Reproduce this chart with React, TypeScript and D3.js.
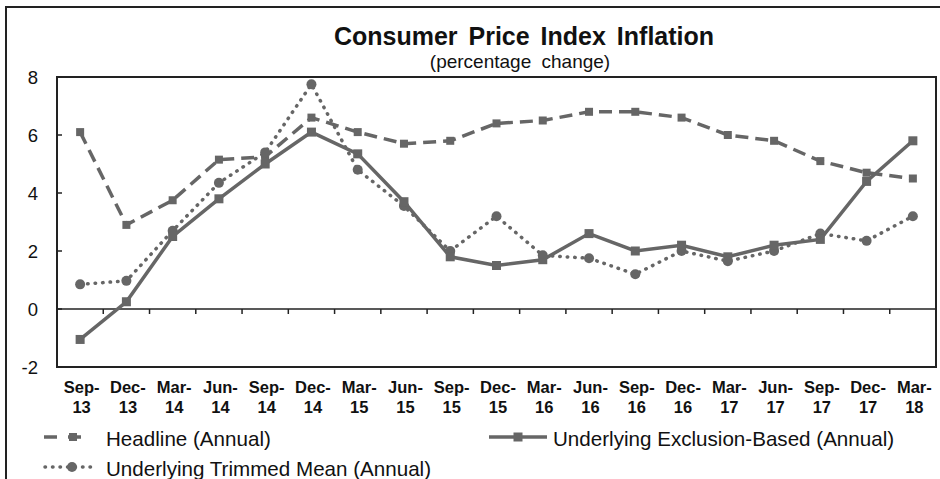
import React from 'react';
import * as d3 from 'd3';

const quarters = ['Sep-13', 'Dec-13', 'Mar-14', 'Jun-14', 'Sep-14', 'Dec-14', 'Mar-15', 'Jun-15', 'Sep-15', 'Dec-15',
  'Mar-16', 'Jun-16', 'Sep-16', 'Dec-16', 'Mar-17', 'Jun-17', 'Sep-17', 'Dec-17', 'Mar-18'];
const headline = [6.1, 2.9, 3.75, 5.15, 5.25, 6.6, 6.1, 5.7, 5.8, 6.4, 6.5, 6.8, 6.8, 6.6, 6.0, 5.8, 5.1, 4.7, 4.5];
const exclusion = [-1.05, 0.25, 2.5, 3.8, 5.0, 6.1, 5.35, 3.7, 1.8, 1.5, 1.7, 2.6, 2.0, 2.2, 1.8, 2.2, 2.4, 4.4, 5.8];
const trimmed = [0.85, 0.97, 2.7, 4.35, 5.4, 7.75, 4.8, 3.55, 2.0, 3.2, 1.85, 1.75, 1.2, 2.0, 1.65, 2.0, 2.6, 2.35, 3.2];
const yTicks = [-2, 0, 2, 4, 6, 8];

const FONT = '"Liberation Sans", Arial, sans-serif';
const GREY = '#666666';
const DARK = '#222222';

export default function App() {
  const W = 940, H = 479;
  const left = 57, right = 936, top = 77, bottom = 367;

  const x = d3.scaleBand<string>().domain(quarters).range([left, right]).padding(0);
  const y = d3.scaleLinear().domain([-2, 8]).range([bottom, top]);
  const cx = (i: number) => (x(quarters[i]) as number) + x.bandwidth() / 2;

  const line = d3.line<number>().x((_, i) => cx(i)).y(d => y(d));

  // boundaries between categories for the x ticks
  const bounds = quarters.slice(1).map(q => x(q) as number);

  return (
    <svg width={W} height={H} style={{ position: 'absolute', left: 0, top: 0, background: '#fff' }}
      fontFamily={FONT}>
      <rect x={0} y={0} width={W} height={H} fill="#fff" />
      <rect x={6} y={7} width={W + 10} height={H + 10} fill="none" stroke={DARK} strokeWidth={2} />

      <text x={524} y={45} textAnchor="middle" fontSize={25} fontWeight="bold" wordSpacing={4} fill="#111">
        Consumer Price Index Inflation
      </text>
      <text x={520} y={68} textAnchor="middle" fontSize={19} wordSpacing={5} fill="#111">
        (percentage change)
      </text>

      {/* plot frame */}
      <rect x={left} y={top} width={right - left} height={bottom - top} fill="none" stroke={DARK} strokeWidth={2} />

      {/* y axis ticks and labels */}
      {yTicks.map(t => (
        <g key={t}>
          <line x1={left} x2={left + 5} y1={y(t)} y2={y(t)} stroke={DARK} strokeWidth={1.5} />
          <text x={38} y={y(t) + 6.5} textAnchor="end" fontSize={18.5} fill="#111">{t}</text>
        </g>
      ))}

      {/* zero line with category ticks */}
      <line x1={left} x2={right} y1={y(0)} y2={y(0)} stroke={DARK} strokeWidth={1.5} />
      {bounds.map((b, i) => (
        <line key={i} x1={b} x2={b} y1={y(0)} y2={y(0) + 5} stroke={DARK} strokeWidth={1.5} />
      ))}

      {/* x labels */}
      {quarters.map((q, i) => {
        const [m, yr] = q.split('-');
        return (
          <text key={q} x={cx(i) + 1.5} textAnchor="middle" fontSize={16.5} fontWeight="bold" fill="#111">
            <tspan x={cx(i) + 1.5} y={393}>{m}-</tspan>
            <tspan x={cx(i) + 1.5} y={413}>{yr}</tspan>
          </text>
        );
      })}

      {/* Headline */}
      <path d={line(headline) as string} fill="none" stroke={GREY} strokeWidth={3.5} strokeDasharray="13,7" />
      {headline.map((v, i) => (
        <rect key={i} x={cx(i) - 4} y={y(v) - 4} width={8} height={8} fill={GREY} />
      ))}

      {/* Trimmed mean */}
      <path d={line(trimmed) as string} fill="none" stroke={GREY} strokeWidth={3.5} strokeDasharray="0.5,7"
        strokeLinecap="round" />
      {trimmed.map((v, i) => (
        <circle key={i} cx={cx(i)} cy={y(v)} r={5} fill={GREY} />
      ))}

      {/* Exclusion-based */}
      <path d={line(exclusion) as string} fill="none" stroke={GREY} strokeWidth={3.5} />
      {exclusion.map((v, i) => (
        <rect key={i} x={cx(i) - 4.5} y={y(v) - 4.5} width={9} height={9} fill={GREY} />
      ))}

      {/* legend */}
      <g>
        <line x1={44} x2={87} y1={437} y2={437} stroke={GREY} strokeWidth={3.5} strokeDasharray="13,11" />
        <rect x={69} y={433} width={8} height={8} fill={GREY} />
        <text x={106} y={446} fontSize={20.6} fill="#111">Headline (Annual)</text>

        <line x1={489} x2={547} y1={437} y2={437} stroke={GREY} strokeWidth={3.5} />
        <rect x={513.5} y={432.5} width={9} height={9} fill={GREY} />
        <text x={553} y={446} fontSize={20.6} fill="#111">Underlying Exclusion-Based (Annual)</text>

        <line x1={45} x2={97} y1={467} y2={467} stroke={GREY} strokeWidth={3.5} strokeDasharray="0.5,7"
          strokeLinecap="round" />
        <circle cx={72} cy={467} r={5} fill={GREY} />
        <text x={106} y={476} fontSize={20.6} fill="#111">Underlying Trimmed Mean (Annual)</text>
      </g>
    </svg>
  );
}
